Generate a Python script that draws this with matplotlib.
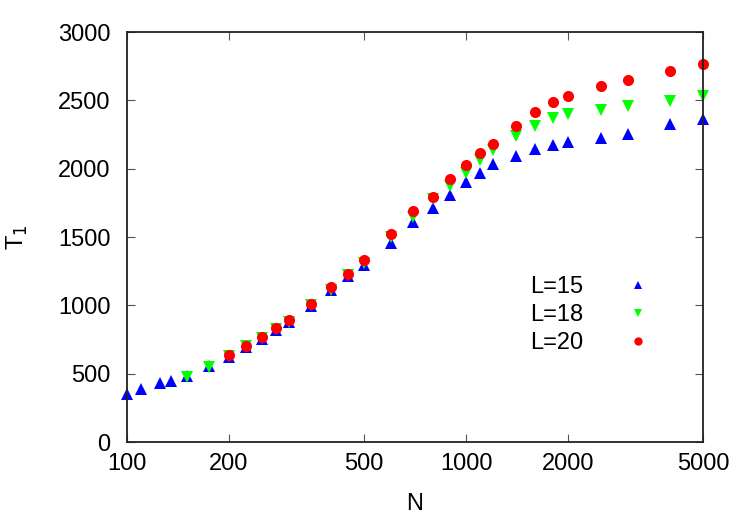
import numpy as np
import matplotlib
matplotlib.use("Agg")
import matplotlib.pyplot as plt

plt.rcParams['font.family'] = ['Liberation Sans', 'DejaVu Sans']

# L=15
n15 = [100, 110, 125, 135, 150, 175, 200, 225, 250, 275, 300, 350, 400, 450, 500,
       600, 700, 800, 900, 1000, 1100, 1200, 1400, 1600, 1800, 2000, 2500, 3000, 4000, 5000]
t15 = [350, 385, 435, 450, 480, 555, 625, 695, 755, 820, 875, 995, 1110, 1215, 1295,
       1456, 1610, 1715, 1810, 1900, 1965, 2035, 2090, 2145, 2170, 2198, 2228, 2255, 2325, 2365]

# L=18
n18 = [150, 175, 200, 225, 250, 275, 300, 350, 400, 450, 500,
       600, 700, 800, 900, 1000, 1100, 1200, 1400, 1600, 1800, 2000, 2500, 3000, 4000, 5000]
t18 = [475, 550, 630, 700, 760, 825, 880, 1000, 1112, 1220, 1310,
       1500, 1650, 1775, 1870, 1970, 2063, 2136, 2239, 2312, 2371, 2400, 2429, 2462, 2495, 2530]

# L=20
n20 = [200, 225, 250, 275, 300, 350, 400, 450, 500,
       600, 700, 800, 900, 1000, 1100, 1200, 1400, 1600, 1800, 2000, 2500, 3000, 4000, 5000]
t20 = [638, 705, 772, 832, 890, 1012, 1132, 1230, 1330,
       1520, 1688, 1792, 1922, 2025, 2113, 2183, 2315, 2413, 2485, 2535, 2605, 2650, 2717, 2768]

xticks = [100, 200, 500, 1000, 2000, 5000]
yticks = [0, 500, 1000, 1500, 2000, 2500, 3000]

fig = plt.figure(figsize=(7.5, 5.25), dpi=100)
ax = fig.add_axes([0.1693, 0.158, 0.768, 0.781])

ax.plot(n15, t15, linestyle="none", marker="^", markersize=8.5, color="#0000ff",
        markeredgewidth=0, label="L=15", clip_on=False)
ax.plot(n18, t18, linestyle="none", marker="v", markersize=8.5, color="#00ff00",
        markeredgewidth=0, label="L=18", clip_on=False)
ax.plot(n20, t20, linestyle="none", marker="o", markersize=8, color="#ff0000",
        markeredgewidth=0, label="L=20", clip_on=False)

ax.set_xscale("log")
ax.set_xlim(100, 5000)
ax.set_ylim(0, 3000)
ax.set_xticks(xticks)
ax.set_xticklabels([str(v) for v in xticks])
ax.xaxis.set_minor_locator(matplotlib.ticker.NullLocator())
ax.set_yticks(yticks)
ax.tick_params(direction="in", length=6, width=0.8, color="#555555",
               top=True, right=True, labelsize=17)
ax.tick_params(axis="y", pad=12)
ax.tick_params(axis="x", pad=8)
for s in ax.spines.values():
    s.set_linewidth(1.3)
    s.set_color("#222222")

ax.set_xlabel("N", fontsize=17, labelpad=13)
ax.set_ylabel(r"T$_1$", fontsize=17, labelpad=20)

ax.legend(loc="upper left", bbox_to_anchor=(0.70, 0.405), frameon=False,
          markerfirst=False, fontsize=17, handlelength=2.0, handletextpad=1.3,
          labelspacing=0.25, borderpad=0, borderaxespad=0, markerscale=0.75)

plt.savefig("out.png")
plt.close()
